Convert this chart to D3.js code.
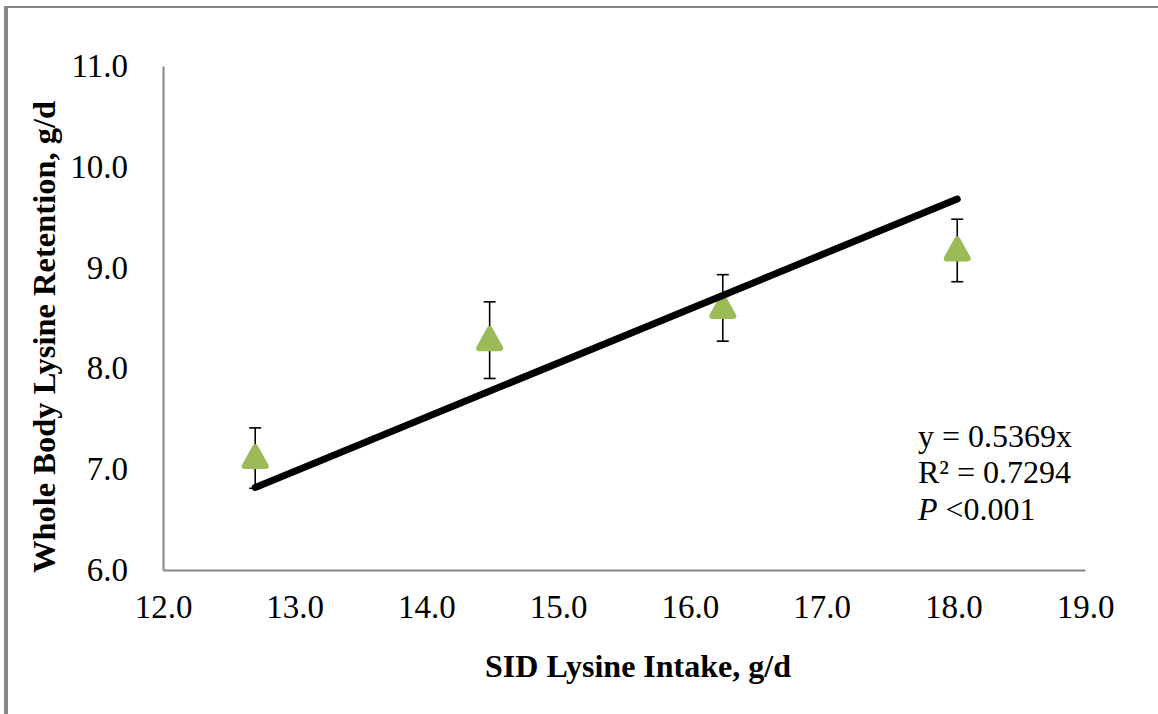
<!DOCTYPE html>
<html>
<head>
<meta charset="utf-8">
<script src="https://cdn.jsdelivr.net/npm/d3@7"></script>
<style>
  body { margin: 0; background: #fff; }
  svg text { font-family: "Liberation Serif", "Times New Roman", serif; fill: #000; }
</style>
</head>
<body>
<svg width="1158" height="714"></svg>
<script>
const svg = d3.select("svg"),
      width = +svg.attr("width"),
      height = +svg.attr("height");

// data
const intake = [12.70, 14.48, 16.25, 18.03];
const retention = [7.11, 8.28, 8.60, 9.17];
const errBar = [0.30, 0.38, 0.33, 0.31];
const slope = 0.5369;
const xTicks = [12, 13, 14, 15, 16, 17, 18, 19];
const yTicks = [6, 7, 8, 9, 10, 11];
const statLines = ["y = 0.5369x", "R² = 0.7294"];

const colors = {
  frame: "#888888",
  axis: "#868686",
  marker: "#9BBB59",
  line: "#000"
}

const x = d3.scaleLinear().domain([12, 19]).range([163, 1085]);
const y = d3.scaleLinear().domain([6, 11]).range([570, 66]);

// outer frame (only top and left edges show)
svg.append("rect").attr("x", 4).attr("y", 6).attr("width", 4).attr("height", height - 6)
  .attr("fill", colors.frame);
svg.append("rect").attr("x", 4).attr("y", 6).attr("width", width - 4).attr("height", 2)
  .attr("fill", colors.frame);

// axes
const xAxis = svg.append("g").attr("transform", `translate(0,${y(6)})`)
  .call(d3.axisBottom(x).tickValues(xTicks).tickSize(0).tickPadding(25).tickFormat(d3.format(".1f")));
const yAxis = svg.append("g").attr("transform", `translate(${x(12)},0)`)
  .call(d3.axisLeft(y).tickValues(yTicks).tickSize(0).tickPadding(35).tickFormat(d3.format(".1f")));

[xAxis, yAxis].forEach(function(g) {
  g.select(".domain").attr("stroke", colors.axis).attr("stroke-width", 2);
  g.selectAll("text").style("font-size", "33px").attr("fill", "#000")
    .style("font-family", "'Liberation Serif', serif");
});
yAxis.selectAll("text").attr("dy", "0.32em");

// axis titles
svg.append("text")
  .attr("x", 638).attr("y", 677)
  .attr("text-anchor", "middle")
  .style("font-size", "32px").style("font-weight", "bold")
  .text("SID Lysine Intake, g/d");

svg.append("text")
  .attr("transform", "translate(55,337) rotate(-90)")
  .attr("text-anchor", "middle")
  .style("font-size", "32.5px").style("font-weight", "bold")
  .text("Whole Body Lysine Retention, g/d");

const pts = intake.map(function(d, i) {
  return {x: d, y: retention[i], e: errBar[i]};
});

// error bars
const eb = svg.append("g").attr("stroke", "#000").attr("stroke-width", 1.6);
eb.selectAll(".stem").data(pts).enter().append("line")
  .attr("x1", d => x(d.x)).attr("x2", d => x(d.x))
  .attr("y1", d => y(d.y + d.e)).attr("y2", d => y(d.y - d.e));
eb.selectAll(".capTop").data(pts).enter().append("line")
  .attr("x1", d => x(d.x) - 6).attr("x2", d => x(d.x) + 6)
  .attr("y1", d => y(d.y + d.e)).attr("y2", d => y(d.y + d.e));
eb.selectAll(".capBot").data(pts).enter().append("line")
  .attr("x1", d => x(d.x) - 6).attr("x2", d => x(d.x) + 6)
  .attr("y1", d => y(d.y - d.e)).attr("y2", d => y(d.y - d.e));

// triangles
svg.append("g").selectAll("path").data(pts).enter().append("path")
  .attr("transform", d => `translate(${x(d.x)},${y(d.y)})`)
  .attr("d", "M0,-11 L10.5,8 L-10.5,8 Z")
  .attr("fill", colors.marker)
  .attr("stroke", colors.marker)
  .attr("stroke-width", 6)
  .attr("stroke-linejoin", "round");

// trend line
const xMin = d3.min(intake), xMax = d3.max(intake);
svg.append("line")
  .attr("x1", x(xMin)).attr("y1", y(slope * xMin))
  .attr("x2", x(xMax)).attr("y2", y(slope * xMax))
  .attr("stroke", colors.line).attr("stroke-width", 7)
  .attr("stroke-linecap", "round");

// regression stats
const stats = svg.append("g").style("font-size", "32px");
stats.selectAll("text.s").data(statLines).enter().append("text")
  .attr("x", 918).attr("y", (d, i) => 447 + i * 36)
  .text(d => d);
const pText = stats.append("text").attr("x", 918).attr("y", 520);
pText.append("tspan").style("font-style", "italic").text("P");
pText.append("tspan").text(" <0.001");
</script>
</body>
</html>
